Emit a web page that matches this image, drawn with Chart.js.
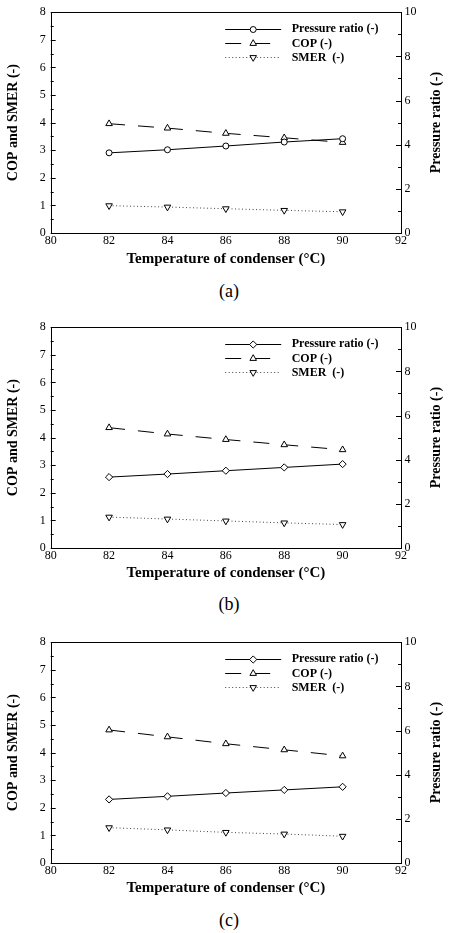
<!DOCTYPE html>
<html>
<head>
<meta charset="utf-8">
<script src="https://cdn.jsdelivr.net/npm/chart.js@4/dist/chart.umd.min.js"></script>
<style>
  html, body { margin: 0; padding: 0; background: #fff; }
  body { width: 449px; height: 933px; position: relative; overflow: hidden; }
  canvas { position: absolute; left: 0; }
  .cap { position: absolute; left: 0; width: 458px; text-align: center; font-family: 'Liberation Serif', 'Times New Roman', serif; font-size: 18px; color: #000; line-height: 20px; }
</style>
</head>
<body>
<canvas id="ca" width="449" height="272" style="top:0px"></canvas>
<div class="cap" style="top:281px">(a)</div>
<canvas id="cb" width="449" height="271" style="top:315px"></canvas>
<div class="cap" style="top:594px">(b)</div>
<canvas id="cc" width="449" height="271" style="top:630px"></canvas>
<div class="cap" style="top:910px">(c)</div>
<script>
// ---- data ----
const temperatures = [82, 84, 86, 88, 90];

const pressureRatioA = [3.63, 3.77, 3.94, 4.12, 4.27];
const copA           = [3.96, 3.80, 3.61, 3.45, 3.28];
const smerA          = [0.99, 0.94, 0.88, 0.82, 0.77];

const pressureRatioB = [3.21, 3.35, 3.50, 3.65, 3.80];
const copB           = [4.36, 4.13, 3.93, 3.74, 3.56];
const smerB          = [1.12, 1.05, 0.98, 0.91, 0.85];

const pressureRatioC = [2.88, 3.02, 3.17, 3.31, 3.45];
const copC           = [4.82, 4.57, 4.32, 4.10, 3.88];
const smerC          = [1.28, 1.20, 1.11, 1.05, 0.97];

const seriesNames = ['Pressure ratio (-)', 'COP (-)', 'SMER  (-)'];
const xTitle = 'Temperature of condenser (\u00B0C)';
const leftTitle = 'COP and SMER (-)';
const rightTitle = 'Pressure ratio (-)';

const FONT = "'Liberation Serif', 'Times New Roman', serif";

const framePlugin = {
  id: 'frameTicksLegend',
  afterDatasetsDraw(chart) {
    const ctx = chart.ctx;
    const a = chart.chartArea;
    const sy = chart.scales.y, sy1 = chart.scales.y1;
    ctx.save();
    ctx.strokeStyle = '#000';
    ctx.lineWidth = 1;
    ctx.setLineDash([]);
    // frame
    ctx.strokeRect(Math.round(a.left) + 0.5, Math.round(a.top) + 0.5,
                   Math.round(a.right) - Math.round(a.left), Math.round(a.bottom) - Math.round(a.top));
    // inward ticks (major + minor halfway)
    ctx.beginPath();
    sy.ticks.forEach((t, i) => {
      const py = Math.round(sy.getPixelForValue(t.value)) + 0.5;
      ctx.moveTo(a.left, py); ctx.lineTo(a.left + 5, py);
      if (i < sy.ticks.length - 1) {
        const mv = (t.value + sy.ticks[i + 1].value) / 2;
        const my = Math.round(sy.getPixelForValue(mv)) + 0.5;
        ctx.moveTo(a.left, my); ctx.lineTo(a.left + 3, my);
      }
    });
    sy1.ticks.forEach((t, i) => {
      const py = Math.round(sy1.getPixelForValue(t.value)) + 0.5;
      ctx.moveTo(a.right, py); ctx.lineTo(a.right - 5, py);
      if (i < sy1.ticks.length - 1) {
        const mv = (t.value + sy1.ticks[i + 1].value) / 2;
        const my = Math.round(sy1.getPixelForValue(mv)) + 0.5;
        ctx.moveTo(a.right, my); ctx.lineTo(a.right - 3, my);
      }
    });
    ctx.stroke();

    // legend
    chart.data.datasets.forEach((ds, i) => {
      const y = a.top + 16.7 + i * 14.2;
      const x0 = a.left + 174.5, x1 = a.left + 230.5, xm = a.left + 202.5;
      ctx.beginPath();
      ctx.setLineDash(ds.borderDash || []);
      ctx.lineWidth = ds.borderWidth;
      ctx.strokeStyle = ds.borderColor;
      ctx.moveTo(x0, Math.round(y) + 0.5); ctx.lineTo(x1, Math.round(y) + 0.5);
      ctx.stroke();
      ctx.setLineDash([]);
      ctx.fillStyle = '#fff';
      ctx.strokeStyle = '#000';
      ctx.lineWidth = 1;
      Chart.helpers.drawPoint(ctx, {pointStyle: ds.pointStyle, radius: ds.pointRadius, rotation: ds.rotation || 0, borderWidth: 1}, xm, Math.round(y) + 0.5);
      ctx.fillStyle = '#000';
      ctx.font = 'bold 12px ' + FONT;
      ctx.textAlign = 'left';
      ctx.textBaseline = 'middle';
      ctx.fillText(ds.label, a.left + 241, y + 0.5);
    });

    // right axis title (reads bottom-to-top)
    ctx.save();
    ctx.translate(chart.width - 12.3, (a.top + a.bottom) / 2);
    ctx.rotate(-Math.PI / 2);
    ctx.fillStyle = '#000';
    ctx.font = 'bold 14px ' + FONT;
    ctx.textAlign = 'center';
    ctx.textBaseline = 'middle';
    ctx.fillText(rightTitle, 0, 0);
    ctx.restore();
    ctx.restore();
  }
};

function makeChart(id, pr, cop, smer, prStyle, prRadius) {
  const canvas = document.getElementById(id);
  const H = canvas.height;
  const tickFont = {family: FONT, size: 12};
  const titleFont = {family: FONT, size: 14, weight: 'bold'};
  const xTitleFont = {family: FONT, size: 15, weight: 'bold'};
  return new Chart(canvas, {
    type: 'line',
    data: {
      datasets: [
        {
          label: seriesNames[0],
          data: temperatures.map((t, i) => ({x: t, y: pr[i]})),
          yAxisID: 'y1',
          borderColor: '#000', borderWidth: 1, borderDash: [],
          pointStyle: prStyle, pointRadius: prRadius, pointBackgroundColor: '#fff', pointBorderColor: '#000', pointBorderWidth: 1,
          tension: 0, fill: false
        },
        {
          label: seriesNames[1],
          data: temperatures.map((t, i) => ({x: t, y: cop[i]})),
          yAxisID: 'y',
          borderColor: '#000', borderWidth: 1, borderDash: [16, 13],
          pointStyle: 'triangle', pointRadius: 3.8, pointBackgroundColor: '#fff', pointBorderColor: '#000', pointBorderWidth: 1,
          tension: 0, fill: false
        },
        {
          label: seriesNames[2],
          data: temperatures.map((t, i) => ({x: t, y: smer[i]})),
          yAxisID: 'y',
          borderColor: '#444', borderWidth: 1, borderDash: [1, 2.5],
          pointStyle: 'triangle', rotation: 180, pointRotation: 180, pointRadius: 3.8, pointBackgroundColor: '#fff', pointBorderColor: '#000', pointBorderWidth: 1,
          tension: 0, fill: false
        }
      ]
    },
    options: {
      responsive: false,
      animation: false,
      devicePixelRatio: 1,
      layout: {padding: {top: 11, left: 0, right: 0, bottom: 0}},
      plugins: {legend: {display: false}, tooltip: {enabled: false}},
      scales: {
        x: {
          type: 'linear', min: 80, max: 92,
          ticks: {stepSize: 2, color: '#000', font: tickFont, padding: 1, maxRotation: 0, autoSkip: false},
          grid: {display: false, drawTicks: false},
          border: {display: false},
          title: {display: true, text: xTitle, color: '#000', font: xTitleFont, padding: {top: 0, bottom: 4}},
          afterFit(s) { s.height = H - 233; }
        },
        y: {
          type: 'linear', position: 'left', min: 0, max: 8,
          ticks: {stepSize: 1, color: '#000', font: tickFont, padding: 5},
          grid: {display: false, drawTicks: false},
          border: {display: false},
          title: {display: true, text: leftTitle, color: '#000', font: titleFont, padding: {top: 4.6, bottom: 0}},
          afterFit(s) { s.width = 50.7; }
        },
        y1: {
          type: 'linear', position: 'right', min: 0, max: 10,
          ticks: {stepSize: 2, color: '#000', font: tickFont, padding: 3.5},
          grid: {display: false, drawTicks: false},
          border: {display: false},
          title: {display: false},
          afterFit(s) { s.width = 48; }
        }
      }
    },
    plugins: [framePlugin]
  });
}

makeChart('ca', pressureRatioA, copA, smerA, 'circle', 3);
makeChart('cb', pressureRatioB, copB, smerB, 'rectRot', 3.6);
makeChart('cc', pressureRatioC, copC, smerC, 'rectRot', 3.6);
</script>
</body>
</html>
